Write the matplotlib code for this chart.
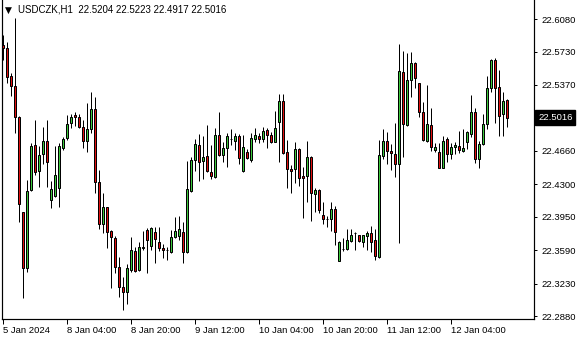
import matplotlib
matplotlib.use("Agg")
import matplotlib.pyplot as plt
import matplotlib.transforms as mtransforms

symbol = "USDCZK,H1"
last_ohlc = ["22.5204", "22.5223", "22.4917", "22.5016"]

# hourly OHLC, 5 Jan 2024 12:00 .. 12 Jan 2024 18:00 (weekend skipped)
opens = [
    22.5800, 22.5768, 22.5466, 22.5358, 22.5024, 22.4001, 22.3397, 22.4238, 22.4722, 22.4442,
    22.4626, 22.4766, 22.4130, 22.4173, 22.4259, 22.4690, 22.4798, 22.4960, 22.5046, 22.5024,
    22.4916, 22.4766, 22.4895, 22.5110, 22.4324, 22.3871, 22.4055, 22.3796, 22.3721, 22.3408,
    22.3193, 22.3139, 22.3376, 22.3580, 22.3376, 22.3618, 22.3807, 22.3634, 22.3785, 22.3677,
    22.3613, 22.3591, 22.3570, 22.3731, 22.3742, 22.3785, 22.3570, 22.4227, 22.4561, 22.4722,
    22.4550, 22.4604, 22.4432, 22.4378, 22.4830, 22.4615, 22.4690, 22.4787, 22.4766, 22.4820,
    22.4442, 22.4647, 22.4561, 22.4787, 22.4820, 22.4787, 22.4884, 22.4830, 22.4755, 22.4970,
    22.5196, 22.4647, 22.4464, 22.4464, 22.4679, 22.4389, 22.4389, 22.4593, 22.4195, 22.4238,
    22.3969, 22.3926, 22.3926, 22.4033, 22.3473, 22.3602, 22.3602, 22.3688, 22.3774, 22.3753,
    22.3677, 22.3742, 22.3774, 22.3699, 22.3516, 22.4604, 22.4766, 22.4658, 22.4626, 22.4518,
    22.5509, 22.4938, 22.5423, 22.5606, 22.5391, 22.5078, 22.4766, 22.4938, 22.4669, 22.4647,
    22.4475, 22.4787, 22.4626, 22.4701, 22.4712, 22.4658, 22.4755, 22.4841, 22.5078, 22.4572,
    22.4733, 22.4949, 22.5337, 22.5638, 22.5348, 22.5056, 22.5204,
]
highs = [
    22.5908, 22.5832, 22.5498, 22.6091, 22.5030, 22.4005, 22.4345, 22.4744, 22.4992, 22.4712,
    22.4916, 22.4992, 22.4335, 22.4712, 22.4744, 22.4809, 22.5046, 22.5056, 22.5078, 22.5056,
    22.4992, 22.5175, 22.5294, 22.5240, 22.4453, 22.4205, 22.4060, 22.3807, 22.3742, 22.3516,
    22.3300, 22.3440, 22.3731, 22.3624, 22.3677, 22.3796, 22.3828, 22.3839, 22.3839, 22.3839,
    22.3656, 22.3624, 22.3807, 22.3947, 22.3958, 22.3893, 22.4550, 22.4593, 22.4787, 22.4841,
    22.4820, 22.4938, 22.4722, 22.4906, 22.5078, 22.4755, 22.4852, 22.4895, 22.4852, 22.4841,
    22.4830, 22.4679, 22.4852, 22.4906, 22.4852, 22.4916, 22.4906, 22.4863, 22.5089, 22.5272,
    22.5272, 22.4776, 22.4507, 22.4755, 22.4690, 22.4486, 22.4766, 22.4604, 22.4259, 22.4248,
    22.4108, 22.3958, 22.4108, 22.4065, 22.3688, 22.3721, 22.3817, 22.3817, 22.3785, 22.3758,
    22.3758, 22.3796, 22.3850, 22.3817, 22.4776, 22.4895, 22.4863, 22.4733, 22.4960, 22.5811,
    22.5735, 22.5714, 22.5725, 22.5617, 22.5396, 22.5186, 22.5369, 22.5121, 22.4744, 22.4744,
    22.4820, 22.4809, 22.4744, 22.4755, 22.4873, 22.4895, 22.4873, 22.5261, 22.5121, 22.4766,
    22.5056, 22.5466, 22.5649, 22.5660, 22.5531, 22.5294, 22.5223,
]
lows = [
    22.5638, 22.5391, 22.5250, 22.4852, 22.3893, 22.3074, 22.3354, 22.4227, 22.4399, 22.4270,
    22.4518, 22.4270, 22.4044, 22.4162, 22.4055, 22.4669, 22.4776, 22.4906, 22.4927, 22.4910,
    22.4690, 22.4647, 22.4852, 22.4205, 22.3817, 22.3774, 22.3613, 22.3182, 22.3343, 22.3085,
    22.2945, 22.3009, 22.3354, 22.3354, 22.3365, 22.3591, 22.3343, 22.3591, 22.3451, 22.3580,
    22.3505, 22.3484, 22.3559, 22.3721, 22.3699, 22.3451, 22.3559, 22.4216, 22.4442, 22.4335,
    22.4356, 22.4432, 22.4356, 22.4372, 22.4604, 22.4539, 22.4486, 22.4722, 22.4669, 22.4518,
    22.4437, 22.4572, 22.4539, 22.4755, 22.4744, 22.4755, 22.4690, 22.4744, 22.4750, 22.4539,
    22.4630, 22.4259, 22.4205, 22.4313, 22.4281, 22.3936, 22.4108, 22.3904, 22.4001, 22.3990,
    22.3871, 22.3839, 22.3796, 22.3645, 22.3468, 22.3580, 22.3591, 22.3677, 22.3591, 22.3677,
    22.3624, 22.3591, 22.3570, 22.3484, 22.3510, 22.4572, 22.4518, 22.4453, 22.4378, 22.3667,
    22.4593, 22.4927, 22.5240, 22.5337, 22.5024, 22.4766, 22.4755, 22.4658, 22.4647, 22.4470,
    22.4470, 22.4539, 22.4572, 22.4626, 22.4636, 22.4647, 22.4679, 22.4809, 22.4529, 22.4475,
    22.4722, 22.4895, 22.5294, 22.4960, 22.4820, 22.4820, 22.4917,
]
closes = [
    22.5768, 22.5455, 22.5358, 22.5024, 22.4087, 22.3397, 22.4227, 22.4712, 22.4432, 22.4615,
    22.4766, 22.4539, 22.4248, 22.4399, 22.4712, 22.4787, 22.4949, 22.5024, 22.5024, 22.4916,
    22.4766, 22.4895, 22.5110, 22.4324, 22.3871, 22.4055, 22.3785, 22.3731, 22.3408, 22.3193,
    22.3139, 22.3397, 22.3591, 22.3365, 22.3624, 22.3624, 22.3699, 22.3828, 22.3710, 22.3613,
    22.3591, 22.3589, 22.3731, 22.3796, 22.3817, 22.3570, 22.4248, 22.4561, 22.4733, 22.4539,
    22.4593, 22.4442, 22.4389, 22.4830, 22.4615, 22.4690, 22.4820, 22.4789, 22.4820, 22.4582,
    22.4701, 22.4582, 22.4798, 22.4830, 22.4787, 22.4873, 22.4830, 22.4755, 22.4906, 22.5196,
    22.4636, 22.4464, 22.4442, 22.4679, 22.4367, 22.4367, 22.4593, 22.4205, 22.4238, 22.4022,
    22.3926, 22.3924, 22.4033, 22.3785, 22.3677, 22.3600, 22.3699, 22.3753, 22.3776, 22.3688,
    22.3753, 22.3774, 22.3677, 22.3527, 22.4615, 22.4766, 22.4658, 22.4636, 22.4518, 22.5520,
    22.4949, 22.5423, 22.5606, 22.5444, 22.5078, 22.4776, 22.4949, 22.4701, 22.4701, 22.4475,
    22.4766, 22.4626, 22.4701, 22.4722, 22.4669, 22.4690, 22.4863, 22.5078, 22.4572, 22.4733,
    22.4949, 22.5337, 22.5638, 22.5337, 22.5035, 22.5196, 22.5016,
]

time_labels = ["5 Jan 2024", "8 Jan 04:00", "8 Jan 20:00", "9 Jan 12:00",
               "10 Jan 04:00", "10 Jan 20:00", "11 Jan 12:00", "12 Jan 04:00"]
price_ticks = [22.6080, 22.5730, 22.5370, 22.4660, 22.4300, 22.3950, 22.3590, 22.3230, 22.2880]

BULL = "#3cc83c"
BEAR = "#e01010"
FONT = "Liberation Sans"

W, H = 580, 340
fig = plt.figure(figsize=(W / 100, H / 100), dpi=100)
ax = fig.add_axes([2 / W, (H - 319) / H, 532 / W, 319 / H])

n = len(opens)
xs = list(range(n))
px = 1 / 100 * 72  # one pixel in points

ax.vlines(xs, lows, highs, color="black", linewidth=px, zorder=2)
bottoms = [min(o, c) for o, c in zip(opens, closes)]
heights = [max(abs(c - o), 1e-6) for o, c in zip(opens, closes)]
colors = [BULL if c >= o else BEAR for o, c in zip(opens, closes)]
ax.bar(xs, heights, bottom=bottoms, width=0.5, color=colors,
       edgecolor="black", linewidth=px, zorder=3)

ax.set_xlim(-0.25, 132.75)
ax.set_ylim(22.2848, 22.6285)

# axes frame like the terminal: left, bottom, right
ax.spines["top"].set_visible(False)
for s in ("left", "bottom", "right"):
    ax.spines[s].set_linewidth(px * 1.2)

ax.set_xticks([16 * k for k in range(len(time_labels))])
ax.set_xticklabels(time_labels, ha="left", fontsize=6.8, family=FONT)
ax.tick_params(axis="x", direction="out", length=3.5, width=px, pad=1.5)

ax.yaxis.tick_right()
ax.set_yticks(price_ticks)
ax.set_yticklabels([f"{p:.4f}" for p in price_ticks], fontsize=6.8, family=FONT)
ax.tick_params(axis="y", direction="out", length=2.5, width=px, pad=3)

# current price box on the scale
trans = mtransforms.blended_transform_factory(ax.transAxes, ax.transData)
ax.text(1.008, closes[-1], last_ohlc[-1], transform=trans, fontsize=6.8, family=FONT,
        color="white", va="center", ha="left", clip_on=False,
        bbox=dict(boxstyle="square,pad=0.3", fc="black", ec="black"))

# header line
fig.text(5 / W, 1 - 10 / H, "\u25bc", fontsize=6.5, va="center", ha="left", color="black")
fig.text(18 / W, 1 - 10 / H, symbol + "  " + " ".join(last_ohlc), fontsize=7, family=FONT,
         va="center", ha="left", color="black")

fig.savefig("out.png", dpi=100, facecolor="white")
